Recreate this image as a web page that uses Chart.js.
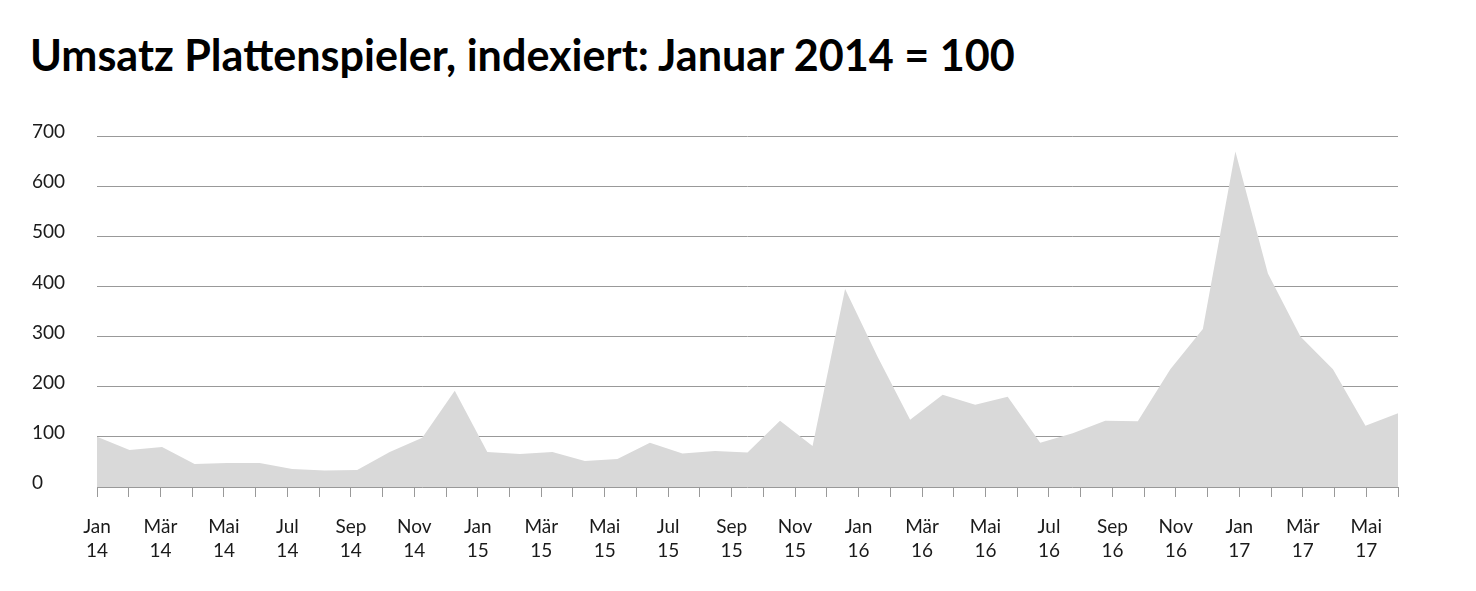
<!DOCTYPE html>
<html>
<head>
<meta charset="utf-8">
<script src="https://cdn.jsdelivr.net/npm/chart.js@4.4.1/dist/chart.umd.min.js"></script>
<style>
  html, body { margin: 0; padding: 0; background: #fff; }
  #wrap { position: relative; width: 1476px; height: 591px; }
  #title { position: absolute; left: 30px; top: 33px; margin: 0; font-family: "Lato", sans-serif; font-weight: 700; font-size: 40px; color: #000; white-space: nowrap; line-height: 1; }
  canvas { position: absolute; left: 0; top: 0; }
</style>
</head>
<body>
<div id="wrap">
  <h1 id="title">Umsatz Plattenspieler, indexiert: Januar 2014 = 100</h1>
  <canvas id="c" width="1476" height="591"></canvas>
</div>
<script>
// Monthly data points: Jan 14 .. Mai 17
const months = [
  "Jan 14","Feb 14","Mär 14","Apr 14","Mai 14","Jun 14","Jul 14","Aug 14","Sep 14","Okt 14","Nov 14","Dez 14",
  "Jan 15","Feb 15","Mär 15","Apr 15","Mai 15","Jun 15","Jul 15","Aug 15","Sep 15","Okt 15","Nov 15","Dez 15",
  "Jan 16","Feb 16","Mär 16","Apr 16","Mai 16","Jun 16","Jul 16","Aug 16","Sep 16","Okt 16","Nov 16","Dez 16",
  "Jan 17","Feb 17","Mär 17","Apr 17","Mai 17"
];
const umsatzIndex = [
  100, 74, 80, 46, 48, 48, 36, 33, 34, 70, 98, 192,
  70, 66, 70, 52, 56, 88, 67, 72, 69, 132, 82, 395,
  260, 134, 184, 164, 180, 88, 107, 132, 131, 235, 315, 669,
  426, 300, 235, 122, 147
];
// Axis tick labels (Jan 14 .. Jun 17), labelled every other month
const tickLabels = [
  ["Jan","14"],"",["Mär","14"],"",["Mai","14"],"",["Jul","14"],"",["Sep","14"],"",["Nov","14"],"",
  ["Jan","15"],"",["Mär","15"],"",["Mai","15"],"",["Jul","15"],"",["Sep","15"],"",["Nov","15"],"",
  ["Jan","16"],"",["Mär","16"],"",["Mai","16"],"",["Jul","16"],"",["Sep","16"],"",["Nov","16"],"",
  ["Jan","17"],"",["Mär","17"],"",["Mai","17"],""
];
const yMin = 0, yMax = 700, yStep = 100;

// fit title width
(function(){
  const t = document.getElementById('title');
  const w = t.getBoundingClientRect().width;
  t.style.fontSize = (40 * 985 / w) + 'px';
})();

const tickFont = { family: "Lato, sans-serif", size: 19, weight: 400, lineHeight: 1.26 };

new Chart(document.getElementById('c'), {
  type: 'line',
  data: {
    labels: months,
    datasets: [{
      data: umsatzIndex,
      xAxisID: 'x',
      yAxisID: 'y',
      fill: 'origin',
      backgroundColor: '#d9d9d9',
      borderWidth: 0,
      borderColor: 'rgba(0,0,0,0)',
      pointRadius: 0,
      tension: 0
    }]
  },
  options: {
    responsive: false,
    animation: false,
    layout: { padding: { top: 136, left: 32, right: 78, bottom: 14 } },
    plugins: { legend: { display: false }, tooltip: { enabled: false }, title: { display: false } },
    scales: {
      x: {
        type: 'category',
        display: false,
        offset: false
      },
      x2: {
        type: 'category',
        position: 'bottom',
        labels: tickLabels,
        offset: false,
        border: { display: false },
        grid: { display: true, drawOnChartArea: false, drawTicks: true, tickLength: 10, color: '#999', lineWidth: 1 },
        ticks: { autoSkip: false, maxRotation: 0, minRotation: 0, padding: 18, color: '#1a1a1a', font: tickFont },
        afterFit: (s) => { s.height = 90; }
      },
      y: {
        min: yMin, max: yMax,
        border: { display: false },
        grid: { color: '#999', lineWidth: 1, drawTicks: false },
        ticks: { stepSize: yStep, align: 'center', crossAlign: 'far', labelOffset: -4, padding: 0, color: '#1a1a1a', font: tickFont },
        afterFit: (s) => { s.width = 65; }
      }
    }
  }
});
</script>
</body>
</html>
